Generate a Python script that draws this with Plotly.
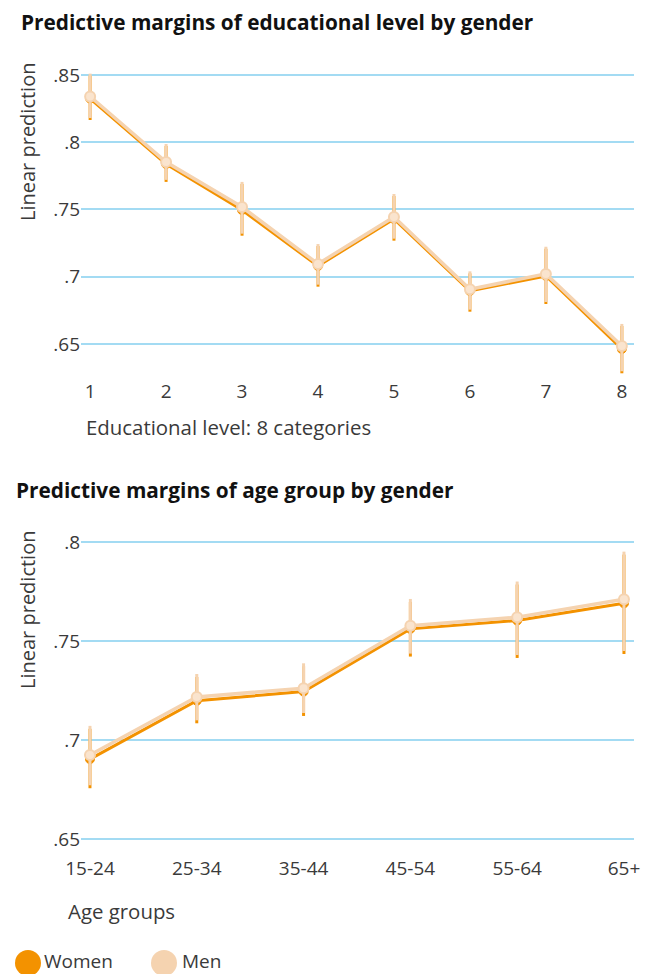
import plotly.graph_objects as go

W, H = 646, 974

# ---------------- data ----------------
edu_levels = [1, 2, 3, 4, 5, 6, 7, 8]
edu_women = [0.8325, 0.7838, 0.7496, 0.7080, 0.7429, 0.6894, 0.7006, 0.6463]
edu_women_lo = [0.8165, 0.7705, 0.7305, 0.6926, 0.7268, 0.6740, 0.6797, 0.6282]
edu_women_hi = [0.8495, 0.7972, 0.7690, 0.7228, 0.7600, 0.7025, 0.7208, 0.6634]
edu_men = [0.8340, 0.7853, 0.7518, 0.7095, 0.7444, 0.6907, 0.7021, 0.6485]
edu_men_lo = [0.8180, 0.7720, 0.7320, 0.6941, 0.7283, 0.6755, 0.6812, 0.6297]
edu_men_hi = [0.8510, 0.7987, 0.7705, 0.7243, 0.7615, 0.7040, 0.7223, 0.6649]

age_groups = ["15-24", "25-34", "35-44", "45-54", "55-64", "65+"]
age_women = [0.6903, 0.7198, 0.7244, 0.7561, 0.7603, 0.7690]
age_women_lo = [0.6756, 0.7084, 0.7121, 0.7421, 0.7414, 0.7434]
age_women_hi = [0.7056, 0.7318, 0.7372, 0.7697, 0.7785, 0.7936]
age_men = [0.6924, 0.7217, 0.7261, 0.7577, 0.7620, 0.7711]
age_men_lo = [0.6771, 0.7099, 0.7136, 0.7436, 0.7429, 0.7449]
age_men_hi = [0.7071, 0.7333, 0.7387, 0.7712, 0.7800, 0.7951]

y_ticks = [0.65, 0.7, 0.75, 0.8, 0.85]
y_ticktext = [".65", ".7", ".75", ".8", ".85"]

# ---------------- style ----------------
ORANGE = "#F39200"
PEACH = "#F5D3B0"
PEACH_FILL = "#FAE4CE"
GRID = "#A3DBF3"
TXT = "#3a3a3a"
FONT = "Open Sans"


def px(x):
    return x / W


def py(y):
    return 1 - y / H


def err(mean, lo, hi, color):
    return dict(
        type="data", symmetric=False,
        array=[h - m for m, h in zip(mean, hi)],
        arrayminus=[m - l for m, l in zip(mean, lo)],
        thickness=3, width=0, color=color,
    )


fig = go.Figure()

# top chart
fig.add_trace(go.Scatter(
    x=edu_levels, y=edu_women, mode="lines+markers", name="Women",
    line=dict(color=ORANGE, width=3),
    marker=dict(size=9, color=ORANGE, line=dict(color=ORANGE, width=1)),
    error_y=err(edu_women, edu_women_lo, edu_women_hi, ORANGE),
    xaxis="x", yaxis="y", showlegend=False))
fig.add_trace(go.Scatter(
    x=edu_levels, y=edu_men, mode="lines+markers", name="Men",
    line=dict(color=PEACH, width=3.5),
    marker=dict(size=10, color=PEACH_FILL, line=dict(color=PEACH, width=2)),
    error_y=err(edu_men, edu_men_lo, edu_men_hi, PEACH),
    xaxis="x", yaxis="y", showlegend=False))

# bottom chart
fig.add_trace(go.Scatter(
    x=age_groups, y=age_women, mode="lines+markers", name="Women",
    line=dict(color=ORANGE, width=3),
    marker=dict(size=9, color=ORANGE, line=dict(color=ORANGE, width=1)),
    error_y=err(age_women, age_women_lo, age_women_hi, ORANGE),
    xaxis="x2", yaxis="y2", showlegend=False))
fig.add_trace(go.Scatter(
    x=age_groups, y=age_men, mode="lines+markers", name="Men",
    line=dict(color=PEACH, width=3.5),
    marker=dict(size=10, color=PEACH_FILL, line=dict(color=PEACH, width=2)),
    error_y=err(age_men, age_men_lo, age_men_hi, PEACH),
    xaxis="x2", yaxis="y2", showlegend=False))

xdom = [px(81), px(634)]
tickfont = dict(family=FONT, size=19, color=TXT)

yax_common = dict(
    tickvals=y_ticks, ticktext=y_ticktext, showgrid=True, gridcolor=GRID,
    gridwidth=1.5, zeroline=False, showline=False, ticks="",
    tickfont=tickfont, fixedrange=True, automargin=False,
)
xax_common = dict(showgrid=False, zeroline=False, showline=False, ticks="",
                  tickfont=tickfont, fixedrange=True, automargin=False)

fig.update_layout(
    template="none",
    width=W, height=H, autosize=False,
    margin=dict(l=0, r=0, t=0, b=0, pad=0, autoexpand=False),
    paper_bgcolor="white", plot_bgcolor="white",
    font=dict(family=FONT, color=TXT),
    showlegend=False,
    xaxis=dict(domain=xdom, anchor="y", range=[0.88, 8.16],
               tickvals=edu_levels, **xax_common),
    yaxis=dict(domain=[py(378), py(70)], anchor="x",
               range=[0.6247, 0.8537], **yax_common),
    xaxis2=dict(domain=xdom, anchor="y2", type="category",
                range=[-0.084, 5.094], ticklabelstandoff=5, **xax_common),
    yaxis2=dict(domain=[py(850), py(535)], anchor="x2",
                range=[0.6444, 0.8035], **yax_common),
)

ann = []
ann.append(dict(text="<b>Predictive margins of educational level by gender</b>",
                x=px(19), y=py(22), xanchor="left", yanchor="middle",
                font=dict(family=FONT, size=20.8, color="#111111")))
ann.append(dict(text="<b>Predictive margins of age group by gender</b>",
                x=px(14), y=py(490), xanchor="left", yanchor="middle",
                font=dict(family=FONT, size=20.8, color="#111111")))
ann.append(dict(text="Linear prediction", textangle=-90,
                x=px(27), y=py(142), xanchor="center", yanchor="middle",
                font=dict(family=FONT, size=20, color=TXT)))
ann.append(dict(text="Linear prediction", textangle=-90,
                x=px(27), y=py(610), xanchor="center", yanchor="middle",
                font=dict(family=FONT, size=20, color=TXT)))
ann.append(dict(text="Educational level: 8 categories",
                x=px(84), y=py(427), xanchor="left", yanchor="middle",
                font=dict(family=FONT, size=20.4, color=TXT)))
ann.append(dict(text="Age groups",
                x=px(66), y=py(911), xanchor="left", yanchor="middle",
                font=dict(family=FONT, size=20.4, color=TXT)))
ann.append(dict(text="Women", x=px(42), y=py(961), xanchor="left", yanchor="middle",
                font=dict(family=FONT, size=19, color=TXT)))
ann.append(dict(text="Men", x=px(180), y=py(961), xanchor="left", yanchor="middle",
                font=dict(family=FONT, size=19, color=TXT)))
for a in ann:
    a.update(xref="paper", yref="paper", showarrow=False)
fig.update_layout(annotations=ann)

fig.update_layout(shapes=[
    dict(type="circle", xref="paper", yref="paper",
         x0=px(15), x1=px(41), y0=py(976), y1=py(950),
         fillcolor=ORANGE, line=dict(width=0)),
    dict(type="circle", xref="paper", yref="paper",
         x0=px(151), x1=px(177), y0=py(976), y1=py(950),
         fillcolor=PEACH, line=dict(width=0)),
])

fig.write_html(
    "out.html",
    config={"displayModeBar": False},
    post_script="document.body.style.margin='0';document.body.style.padding='0';"
                "document.body.style.overflow='hidden';",
)
